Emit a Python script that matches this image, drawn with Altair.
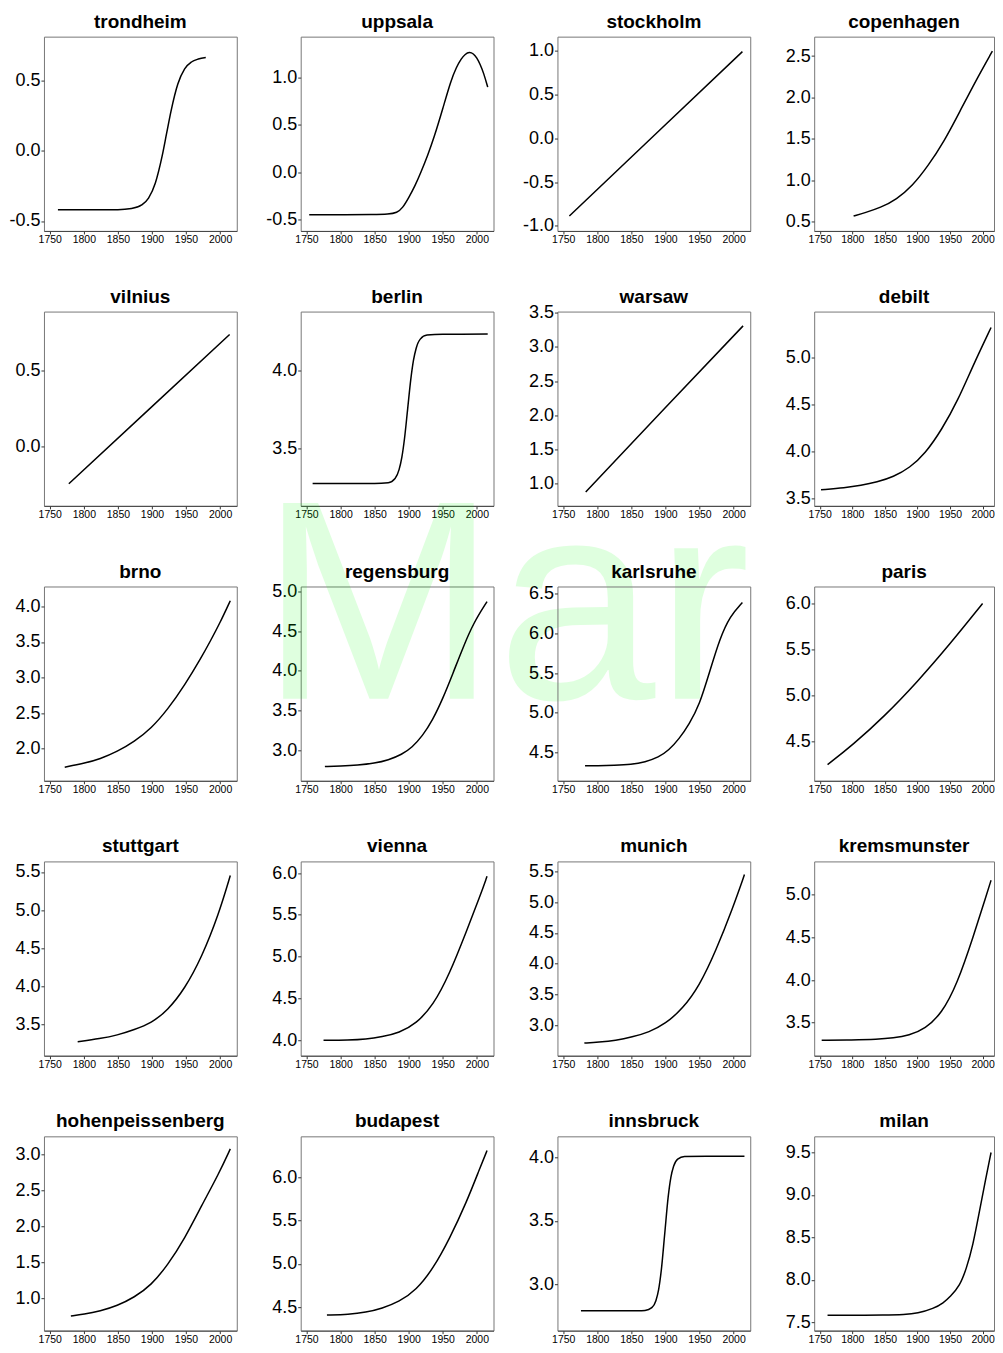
import altair as alt
import pandas as pd

# ---------------- data ----------------
STATIONS = ["trondheim", "uppsala", "stockholm", "copenhagen",
            "vilnius", "berlin", "warsaw", "debilt",
            "brno", "regensburg", "karlsruhe", "paris",
            "stuttgart", "vienna", "munich", "kremsmunster",
            "hohenpeissenberg", "budapest", "innsbruck", "milan"]

X_TICKS = [1750, 1800, 1850, 1900, 1950, 2000]

TRONDHEIM_YEARS = [1762, 1800, 1850, 1870, 1885, 1895, 1905, 1915, 1921.5, 1928, 1938, 1948, 1958, 1968, 1979]
TRONDHEIM_VALUES = [-0.42, -0.42, -0.419, -0.411, -0.385, -0.336, -0.228, -0.035, 0.125, 0.285, 0.478, 0.586, 0.635, 0.656, 0.667]
TRONDHEIM_YLIM = [-0.571, 0.816]
TRONDHEIM_TICKS = [-0.5, 0.0, 0.5]

UPPSALA_YEARS = [1754, 1800, 1850, 1870, 1883, 1891, 1900, 1909, 1918, 1928, 1937, 1950, 1962, 1970, 1977, 1983, 1989, 1995, 2000, 2005, 2010, 2016]
UPPSALA_VALUES = [-0.45, -0.45, -0.448, -0.445, -0.43, -0.38, -0.27, -0.15, 0.0, 0.18, 0.36, 0.67, 0.97, 1.11, 1.20, 1.25, 1.272, 1.255, 1.21, 1.14, 1.05, 0.90]
UPPSALA_YLIM = [-0.622, 1.434]
UPPSALA_TICKS = [-0.5, 0.0, 0.5, 1.0]

STOCKHOLM_YEARS = [1759, 1886, 2013]
STOCKHOLM_VALUES = [-0.889, 0.052, 0.993]
STOCKHOLM_YLIM = [-1.06, 1.164]
STOCKHOLM_TICKS = [-1.0, -0.5, 0.0, 0.5, 1.0]

COPENHAGEN_YEARS = [1802, 1820, 1843, 1868, 1892, 1916, 1941, 1965, 1990, 2015]
COPENHAGEN_VALUES = [0.568, 0.61, 0.668, 0.77, 0.93, 1.17, 1.47, 1.83, 2.21, 2.56]
COPENHAGEN_YLIM = [0.388, 2.735]
COPENHAGEN_TICKS = [0.5, 1.0, 1.5, 2.0, 2.5]

VILNIUS_YEARS = [1778, 1896, 2014]
VILNIUS_VALUES = [-0.245, 0.244, 0.733]
VILNIUS_YLIM = [-0.39, 0.883]
VILNIUS_TICKS = [0.0, 0.5]

BERLIN_YEARS = [1759, 1800, 1850, 1870, 1880, 1886, 1890, 1894, 1898.5, 1903, 1907, 1911, 1917, 1927, 1950, 2016]
BERLIN_VALUES = [3.278, 3.278, 3.278, 3.283, 3.31, 3.368, 3.446, 3.57, 3.755, 3.94, 4.064, 4.142, 4.20, 4.226, 4.231, 4.232]
BERLIN_YLIM = [3.135, 4.376]
BERLIN_TICKS = [3.5, 4.0]

WARSAW_YEARS = [1783, 1898, 2014]
WARSAW_VALUES = [0.88, 2.09, 3.305]
WARSAW_YLIM = [0.677, 3.514]
WARSAW_TICKS = [1.0, 1.5, 2.0, 2.5, 3.0, 3.5]

DEBILT_YEARS = [1752, 1789, 1813, 1838, 1863, 1888, 1912, 1937, 1962, 1986, 2013]
DEBILT_VALUES = [3.592, 3.613, 3.638, 3.674, 3.73, 3.825, 3.98, 4.23, 4.545, 4.93, 5.325]
DEBILT_YLIM = [3.42, 5.495]
DEBILT_TICKS = [3.5, 4.0, 4.5, 5.0]

BRNO_YEARS = [1772, 1800, 1824, 1849, 1874, 1899, 1923, 1948, 1973, 1985, 2000, 2015]
BRNO_VALUES = [1.739, 1.79, 1.855, 1.958, 2.098, 2.284, 2.55, 2.89, 3.29, 3.5, 3.77, 4.08]
BRNO_YLIM = [1.547, 4.28]
BRNO_TICKS = [2.0, 2.5, 3.0, 3.5, 4.0]

REGENSBURG_YEARS = [1777, 1800, 1825, 1850, 1870, 1890, 1905, 1920, 1935, 1950, 1965, 1980, 1995, 2015]
REGENSBURG_VALUES = [2.80, 2.805, 2.815, 2.84, 2.88, 2.95, 3.04, 3.18, 3.38, 3.65, 3.97, 4.30, 4.60, 4.87]
REGENSBURG_YLIM = [2.62, 5.06]
REGENSBURG_TICKS = [3.0, 3.5, 4.0, 4.5, 5.0]

KARLSRUHE_YEARS = [1782, 1800, 1825, 1850, 1870, 1890, 1905, 1920, 1935, 1950, 1965, 1980, 1995, 2013]
KARLSRUHE_VALUES = [4.335, 4.335, 4.34, 4.35, 4.38, 4.44, 4.53, 4.67, 4.86, 5.10, 5.52, 5.94, 6.22, 6.39]
KARLSRUHE_YLIM = [4.145, 6.59]
KARLSRUHE_TICKS = [4.5, 5.0, 5.5, 6.0, 6.5]

PARIS_YEARS = [1762, 1800, 1850, 1900, 1950, 2000]
PARIS_VALUES = [4.25, 4.46, 4.78, 5.15, 5.56, 6.0]
PARIS_YLIM = [4.075, 6.185]
PARIS_TICKS = [4.5, 5.0, 5.5, 6.0]

STUTTGART_YEARS = [1791, 1824, 1849, 1874, 1899, 1923, 1948, 1973, 1998, 2015]
STUTTGART_VALUES = [3.27, 3.313, 3.357, 3.43, 3.517, 3.683, 3.965, 4.378, 4.944, 5.452]
STUTTGART_YLIM = [3.088, 5.638]
STUTTGART_TICKS = [3.5, 4.0, 4.5, 5.0, 5.5]

VIENNA_YEARS = [1775, 1812, 1837, 1861, 1886, 1911, 1936, 1960, 1985, 2005, 2015]
VIENNA_VALUES = [3.998, 4.0, 4.01, 4.04, 4.087, 4.198, 4.416, 4.792, 5.307, 5.73, 5.96]
VIENNA_YLIM = [3.814, 6.139]
VIENNA_TICKS = [4.0, 4.5, 5.0, 5.5, 6.0]

MUNICH_YEARS = [1781, 1802, 1827, 1851, 1876, 1900, 1925, 1950, 1974, 1999, 2016]
MUNICH_VALUES = [2.715, 2.731, 2.758, 2.812, 2.892, 3.027, 3.269, 3.645, 4.21, 4.909, 5.446]
MUNICH_YLIM = [2.51, 5.66]
MUNICH_TICKS = [3.0, 3.5, 4.0, 4.5, 5.0, 5.5]

KREMSMUNSTER_YEARS = [1753, 1800, 1838, 1863, 1887, 1912, 1937, 1961, 1986, 2006, 2013]
KREMSMUNSTER_VALUES = [3.294, 3.298, 3.305, 3.32, 3.35, 3.43, 3.605, 3.953, 4.515, 5.0, 5.17]
KREMSMUNSTER_YLIM = [3.113, 5.39]
KREMSMUNSTER_TICKS = [3.5, 4.0, 4.5, 5.0]

HOHENPEISSENBERG_YEARS = [1781, 1800, 1824, 1849, 1874, 1899, 1923, 1948, 1973, 1998, 2015]
HOHENPEISSENBERG_VALUES = [0.755, 0.778, 0.824, 0.898, 1.014, 1.185, 1.462, 1.831, 2.293, 2.732, 3.079]
HOHENPEISSENBERG_YLIM = [0.552, 3.254]
HOHENPEISSENBERG_TICKS = [1.0, 1.5, 2.0, 2.5, 3.0]

BUDAPEST_YEARS = [1780, 1812, 1837, 1861, 1886, 1911, 1936, 1960, 1985, 2005, 2015]
BUDAPEST_VALUES = [4.408, 4.415, 4.438, 4.485, 4.562, 4.696, 4.946, 5.292, 5.715, 6.119, 6.312]
BUDAPEST_YLIM = [4.227, 6.477]
BUDAPEST_TICKS = [4.5, 5.0, 5.5, 6.0]

INNSBRUCK_YEARS = [1776, 1820, 1860, 1870, 1880, 1886, 1890, 1894, 1899, 1904, 1908, 1912, 1918, 1928, 1960, 2016]
INNSBRUCK_VALUES = [2.792, 2.792, 2.792, 2.795, 2.817, 2.872, 2.959, 3.115, 3.401, 3.687, 3.843, 3.93, 3.986, 4.007, 4.01, 4.01]
INNSBRUCK_YLIM = [2.636, 4.166]
INNSBRUCK_TICKS = [3.0, 3.5, 4.0]

MILAN_YEARS = [1762, 1800, 1850, 1880, 1900, 1925, 1940, 1950, 1965, 1975, 1985, 1995, 2005, 2013]
MILAN_VALUES = [7.585, 7.585, 7.586, 7.592, 7.605, 7.663, 7.73, 7.80, 7.93, 8.13, 8.40, 8.80, 9.20, 9.50]
MILAN_YLIM = [7.403, 9.69]
MILAN_TICKS = [7.5, 8.0, 8.5, 9.0, 9.5]

WATERMARK = "Mar"

# ---------------- layout / style ----------------
FONT = "Liberation Sans, Arial, Helvetica, sans-serif"
PANEL_W = 193
PANEL_H = 194.5
X_DOMAIN = [1741.5, 2024.5]          # shared year range of the first three columns
LAST_W = 180                          # right-hand column is cut by the page edge
LAST_X_DOMAIN = [1741.5, 2017.5]

STRAIGHT = {"stockholm", "vilnius", "warsaw"}
SIGMOID = {"trondheim", "berlin", "innsbruck"}

SERIES = {name: (globals()[name.upper() + "_YEARS"], globals()[name.upper() + "_VALUES"],
                 globals()[name.upper() + "_YLIM"], globals()[name.upper() + "_TICKS"])
          for name in STATIONS}

Y_LABEL = "datum.value < 0 ? '-' + format(-datum.value, '.1f') : format(datum.value, '.1f')"


def make_panel(idx, name):
    years, values, ylim, ticks = SERIES[name]
    last = idx % 4 == 3
    w = LAST_W if last else PANEL_W
    xdom = LAST_X_DOMAIN if last else X_DOMAIN
    if name in STRAIGHT:
        interp = "linear"
    elif name in SIGMOID:
        interp = "monotone"
    else:
        interp = "basis"
    df = pd.DataFrame({"year": years, "value": values})
    line = alt.Chart(df).mark_line(
        color="#000000", strokeWidth=1.5, interpolate=interp, clip=True
    ).encode(
        x=alt.X("year:Q", scale=alt.Scale(domain=xdom, nice=False, zero=False),
                axis=alt.Axis(values=X_TICKS, format="d", title=None, grid=False,
                              labelFontSize=10.5, tickSize=3, labelPadding=1,
                              labelOverlap=False, labelFlush=False,
                              minExtent=0, maxExtent=20,
                              domainColor="#444444", tickColor="#333333")),
        y=alt.Y("value:Q", scale=alt.Scale(domain=ylim, nice=False, zero=False),
                axis=alt.Axis(values=ticks, title=None, grid=False, labelExpr=Y_LABEL,
                              labelFontSize=18, tickSize=3, labelPadding=1,
                              labelOverlap=False, labelFlush=False, domain=False,
                              minExtent=0, tickColor="#333333")),
    )
    title = alt.Chart(pd.DataFrame({"t": [name]})).mark_text(
        font=FONT, fontSize=19, fontWeight="bold", color="#000000",
        align="center", baseline="alphabetic"
    ).encode(text="t:N", x=alt.value(w / 2), y=alt.value(-9))
    layers = [line, title]
    if name == "regensburg":
        wm = alt.Chart(pd.DataFrame({"t": [WATERMARK]})).mark_text(
            font=FONT, fontSize=285, color="#00ff00", opacity=0.12,
            align="center", baseline="alphabetic"
        ).encode(text="t:N", x=alt.value(204.5), y=alt.value(112.4))
        layers = [wm, line, title]
    return alt.layer(*layers).properties(width=w, height=PANEL_H)


panels = [make_panel(i, n) for i, n in enumerate(STATIONS)]

chart = alt.concat(
    *panels, columns=4, spacing={"row": 80.2, "column": 64}, bounds="flush"
).properties(
    padding={"left": 0, "top": 3, "right": 0, "bottom": -2},
    background="#ffffff",
).configure_view(
    stroke="#777777", strokeWidth=1
).configure_axis(
    labelFont=FONT, labelColor="#000000"
)

chart.save("out.html", embed_options={"renderer": "svg", "actions": False})
